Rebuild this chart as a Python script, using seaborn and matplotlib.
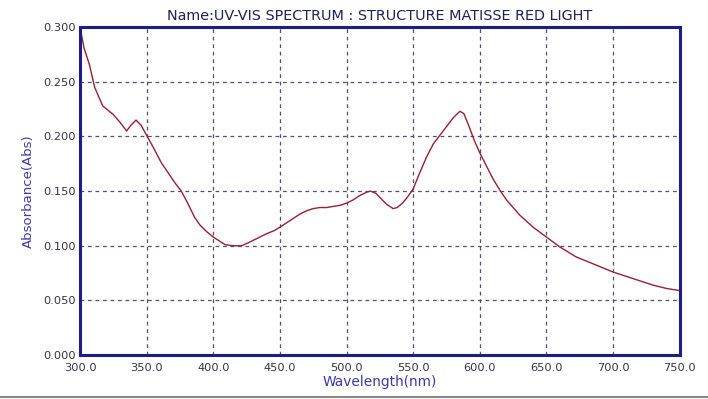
import seaborn as sns
import matplotlib.pyplot as plt
import pandas as pd

# Spectrum
wavelength = [300, 303, 307, 311, 317, 321, 325, 330, 335, 338, 342, 346, 350, 355,
              361, 366, 371, 376, 380, 386, 390, 395, 400, 405, 409, 415, 421, 425,
              430, 435, 440, 446, 450, 455, 460, 465, 470, 475, 480, 485, 490, 495,
              500, 505, 510, 515, 518, 522, 526, 530, 535, 538, 542, 546, 550, 555,
              560, 565, 570, 575, 580, 585, 588, 592, 596, 600, 605, 610, 615, 620,
              625, 630, 640, 650, 660, 672, 680, 690, 700, 710, 720, 730, 740, 750]
absorbance = [0.300, 0.281, 0.266, 0.245, 0.228, 0.224, 0.220, 0.213, 0.205, 0.210,
              0.215, 0.210, 0.201, 0.190, 0.176, 0.167, 0.158, 0.150, 0.141, 0.126,
              0.119, 0.113, 0.108, 0.104, 0.101, 0.100, 0.100, 0.102, 0.105, 0.108,
              0.111, 0.114, 0.117, 0.121, 0.125, 0.129, 0.132, 0.134, 0.135, 0.135,
              0.136, 0.137, 0.139, 0.142, 0.146, 0.149, 0.150, 0.148, 0.143, 0.138,
              0.134, 0.135, 0.139, 0.145, 0.152, 0.167, 0.181, 0.193, 0.201, 0.209,
              0.217, 0.223, 0.221, 0.209, 0.196, 0.185, 0.173, 0.161, 0.151, 0.142,
              0.135, 0.128, 0.117, 0.108, 0.099, 0.090, 0.086, 0.081, 0.076, 0.072,
              0.068, 0.064, 0.061, 0.059]

x_ticks = [300, 350, 400, 450, 500, 550, 600, 650, 700, 750]
y_ticks = [0.0, 0.05, 0.10, 0.15, 0.20, 0.25, 0.30]

df = pd.DataFrame({'Wavelength': wavelength, 'Absorbance': absorbance})

sns.set_style("white")
plt.rcParams['font.family'] = ['DejaVu Sans']

fig = plt.figure(figsize=(7.08, 3.99), dpi=100)
ax = fig.add_axes([0.113, 0.110, 0.847, 0.822])

sns.lineplot(data=df, x='Wavelength', y='Absorbance', ax=ax,
             color='#982030', linewidth=1.0)

ax.set_xlim(300, 750)
ax.set_ylim(0, 0.3)
ax.set_xticks(x_ticks)
ax.set_xticklabels([f'{v:.1f}' for v in x_ticks])
ax.set_yticks(y_ticks)
ax.set_yticklabels([f'{v:.3f}' for v in y_ticks])
ax.tick_params(length=0, labelsize=8.2, labelcolor='#333344')
ax.tick_params(axis='x', pad=6)
ax.tick_params(axis='y', pad=3)

ax.grid(True, linestyle=(0, (3, 3)), color='#505070', linewidth=0.9)
for s in ax.spines.values():
    s.set_color('#1c1c8c')
    s.set_linewidth(2.2)

ax.set_title('Name:UV-VIS SPECTRUM : STRUCTURE MATISSE RED LIGHT',
             fontsize=10.4, color='#20205a', pad=5)
ax.set_xlabel('Wavelength(nm)', fontsize=9.9, color='#3a3aa8', labelpad=1)
ax.set_ylabel('Absorbance(Abs)', fontsize=9.5, color='#3a3aa8', labelpad=6)

fig.add_artist(plt.Line2D([0, 1], [0.006, 0.006], color='#888888', linewidth=1.5))

plt.savefig('out.png', dpi=100)
